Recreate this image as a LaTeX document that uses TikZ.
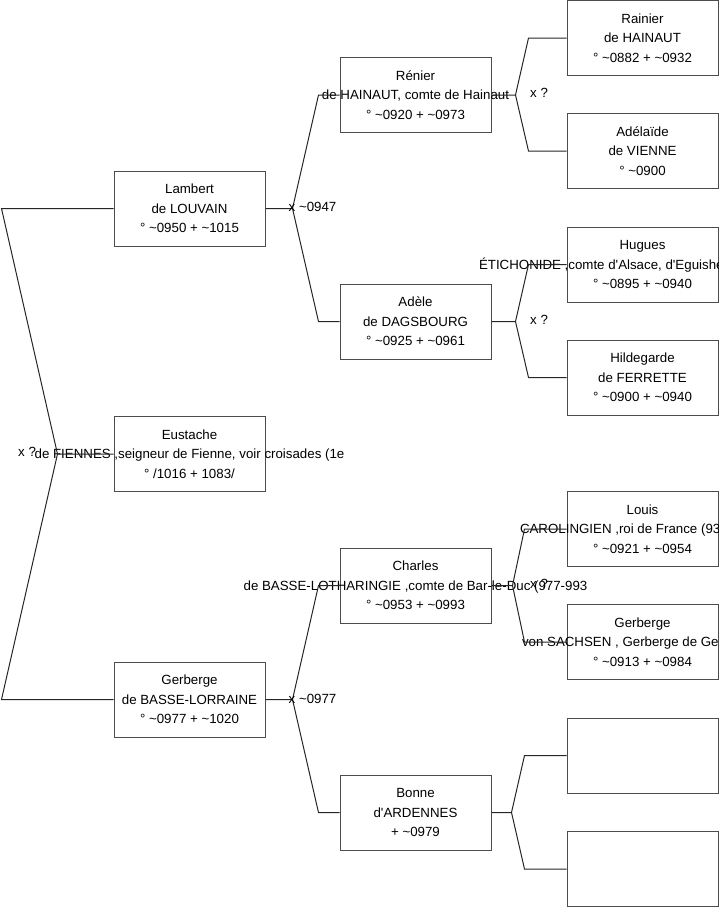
\documentclass[tikz,border=0pt]{standalone}
\usepackage{fontspec}
\setmainfont{Liberation Sans}
\newcommand{\tld}{\textasciitilde}
\newcommand{\apos}{\textquotesingle}
\begin{document}
\begin{tikzpicture}[x=1pt,y=-1pt,
  pbox/.style={draw=black!70, line width=1pt, rectangle, minimum width=151pt,
    minimum height=75pt, inner sep=0pt, align=center,
    font=\fontsize{13.3}{19.5}\selectfont},
  link/.style={draw=black!85, line width=1pt},
  lbl/.style={anchor=west, inner sep=0pt, font=\fontsize{13.3}{15.6}\selectfont}]
\useasboundingbox (0,0) rectangle (719,908);

% level 1
\node[pbox] (lambert) at (189.5,208.5) {Lambert\\de LOUVAIN\\° \tld0950 + \tld1015};
\node[pbox] (eustache) at (189.5,454) {Eustache\\\makebox[0pt]{de FIENNES ,seigneur de Fienne, voir croisades (1e}\\° /1016 + 1083/};
\node[pbox] (gerberge) at (189.5,699.5) {Gerberge\\de BASSE-LORRAINE\\° \tld0977 + \tld1020};

% level 2
\node[pbox] (renier) at (415.5,95) {Rénier\\\makebox[0pt]{de HAINAUT, comte de Hainaut}\\° \tld0920 + \tld0973};
\node[pbox] (adele) at (415.5,321.5) {Adèle\\de DAGSBOURG\\° \tld0925 + \tld0961};
\node[pbox] (charles) at (415.5,585.5) {Charles\\\makebox[0pt]{de BASSE-LOTHARINGIE ,comte de Bar-le-Duc (977-993}\\° \tld0953 + \tld0993};
\node[pbox] (bonne) at (415.5,812.5) {Bonne\\d\apos ARDENNES\\+ \tld0979};

% level 3
\node[pbox] (rainier) at (642.5,38) {Rainier\\de HAINAUT\\° \tld0882 + \tld0932};
\node[pbox] (adelaide) at (642.5,151) {Adélaïde\\de VIENNE\\° \tld0900};
\node[pbox] (hugues) at (642.5,264.5) {Hugues\\\makebox[0pt][l]{\hspace*{-163.5pt}ÉTICHONIDE ,comte d\apos Alsace, d\apos Eguishe}\\° \tld0895 + \tld0940};
\node[pbox] (hildegarde) at (642.5,377.5) {Hildegarde\\de FERRETTE\\° \tld0900 + \tld0940};
\node[pbox] (louis) at (642.5,529) {Louis\\\makebox[0pt][l]{\hspace*{-122.5pt}CAROLINGIEN ,roi de France (93}\\° \tld0921 + \tld0954};
\node[pbox] (gerbergeS) at (642.5,642) {Gerberge\\\makebox[0pt][l]{\hspace*{-120.5pt}von SACHSEN , Gerberge de Ge}\\° \tld0913 + \tld0984};
\node[pbox] (emptyA) at (642.5,755.5) {};
\node[pbox] (emptyB) at (642.5,869) {};

% root fork
\coordinate (f0) at ([xshift=-56pt]eustache.west);
\draw[link] (eustache.west) -- (f0) -- ([xshift=-112pt]lambert.west) -- (lambert.west);
\draw[link] (f0) -- ([xshift=-112pt]gerberge.west) -- (gerberge.west);

% level 1 forks
\coordinate (fL) at ([xshift=27pt]lambert.east);
\draw[link] (lambert.east) -- (fL) -- ([xshift=-21pt]renier.west) -- (renier.west);
\draw[link] (fL) -- ([xshift=-21pt]adele.west) -- (adele.west);
\coordinate (fG) at ([xshift=27pt]gerberge.east);
\draw[link] (gerberge.east) -- (fG) -- ([xshift=-21pt]charles.west) -- (charles.west);
\draw[link] (fG) -- ([xshift=-21pt]bonne.west) -- (bonne.west);

% level 2 forks
\coordinate (fR) at ([xshift=24pt]renier.east);
\draw[link] (renier.east) -- (fR) -- ([xshift=-38pt]rainier.west) -- (rainier.west);
\draw[link] (fR) -- ([xshift=-38pt]adelaide.west) -- (adelaide.west);
\coordinate (fA) at ([xshift=24pt]adele.east);
\draw[link] (adele.east) -- (fA) -- ([xshift=-38pt]hugues.west) -- (hugues.west);
\draw[link] (fA) -- ([xshift=-38pt]hildegarde.west) -- (hildegarde.west);
\coordinate (fC) at ([xshift=21pt]charles.east);
\draw[link] (charles.east) -- (fC) -- ([xshift=-42pt]louis.west) -- (louis.west);
\draw[link] (fC) -- ([xshift=-42pt]gerbergeS.west) -- (gerbergeS.west);
\coordinate (fB) at ([xshift=20pt]bonne.east);
\draw[link] (bonne.east) -- (fB) -- ([xshift=-42pt]emptyA.west) -- (emptyA.west);
\draw[link] (fB) -- ([xshift=-42pt]emptyB.west) -- (emptyB.west);

% marriage labels
\node[lbl] (m0) at (18,452) {x ?};
\node[lbl] (m1) at (288.5,207) {x \tld0947};
\node[lbl] (m2) at (288.5,698.5) {x \tld0977};
\node[lbl] (m3) at (530,93) {x ?};
\node[lbl] (m4) at (530,319.5) {x ?};
\node[lbl] (m5) at (530,583.5) {x ?};
\end{tikzpicture}
\end{document}
